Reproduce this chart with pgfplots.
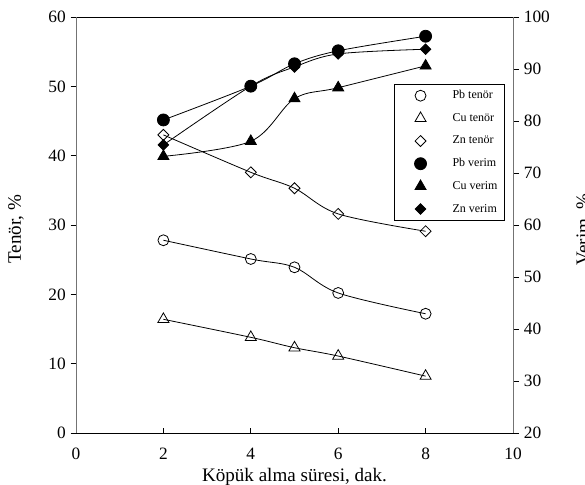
\documentclass[border=0pt]{standalone}
\usepackage{fontspec}
\setmainfont{Liberation Serif}
\usepackage{pgfplots}
\usepackage{pgfplotstable}
\pgfplotsset{compat=1.18}

% Flotation results versus froth collection time
% columns: t (min), Pb, Cu, Zn
\pgfplotstableread{
t   Pb    Cu    Zn
2   27.8  16.4  43.0
4   25.1  13.8  37.6
5   23.9  12.3  35.3
6   20.2  11.1  31.6
8   17.2   8.2  29.1
}\tenor
\pgfplotstableread{
t   Pb    Cu    Zn
2   80.2  73.2  75.4
4   86.7  76.1  86.7
5   91.0  84.3  90.4
6   93.5  86.4  92.9
8   96.3  90.6  93.8
}\verim

\definecolor{axgray}{gray}{0.45}

\begin{document}
\begin{tikzpicture}
\pgfplotsset{
  every axis/.append style={
    scale only axis,
    width=327.75pt, height=312pt,
    xmin=0, xmax=10,
    font=\fontsize{14.3}{16}\selectfont,
    tick label style={font=\fontsize{13}{15}\selectfont},
    /pgf/number format/assume math mode=true,
    line width=0.6pt,
    tick style={line width=0.6pt, black},
  },
  curve/.style={black, line width=0.6pt, smooth, tension=0.55},
}
% left axis: grade (tenör)
\begin{axis}[
  axis y line*=left,
  y axis line style={draw=axgray},
  ymin=0, ymax=60, ytick={0,10,...,60},
  xtick={0,2,...,10},
  xtick pos=bottom, ytick pos=left,
  xtick align=inside, ytick align=outside,
  major tick length=4pt,
  xticklabel style={yshift=-7.5pt},
  xlabel={Köpük alma süresi, dak.},
  xlabel style={at={(axis description cs:0.5,-0.106)}, anchor=center},
  ylabel={Tenör, \%},
  ylabel style={at={(axis description cs:-0.156,0.49)}, anchor=north, inner sep=0pt},
]
\addplot[curve, mark=o, mark size=4.1pt, mark options={fill=white, solid}]
  table[x=t, y=Pb] {\tenor};
\addplot[curve, mark=triangle, mark size=4.8pt, mark options={fill=white, solid}]
  table[x=t, y=Cu] {\tenor};
\addplot[curve, mark=square, mark size=2.9pt, mark options={fill=white, solid, rotate=45}]
  table[x=t, y=Zn] {\tenor};
\end{axis}
% right axis: recovery (verim)
\begin{axis}[
  axis x line=none,
  axis y line*=right,
  y axis line style={draw=axgray},
  ymin=20, ymax=100, ytick={20,30,...,100},
  ytick align=outside,
  major tick length=4.5pt,
  ylabel={Verim, \%},
  ylabel style={at={(axis description cs:1.144,0.49)}, anchor=north, inner sep=0pt},
  legend style={
    at={(rel axis cs:0.728,0.839)}, anchor=north west,
    draw=black, line width=0.6pt, fill=white,
    inner xsep=2pt, inner ysep=0pt,
    font=\fontsize{9}{11}\selectfont,
    nodes={minimum height=17pt, inner ysep=0pt, inner xsep=3pt},
  },
  legend cell align=left,
  legend image code/.code={
    \path[draw=none] (0pt,0pt) -- (38.5pt,0pt);
    \draw[#1, only marks] plot coordinates {(17.5pt,0pt)};
  },
]
\addplot[curve, mark=*, mark size=4.5pt, mark options={fill=black, solid}, forget plot]
  table[x=t, y=Pb] {\verim};
\addplot[curve, mark=triangle*, mark size=4.8pt, mark options={fill=black, solid}, forget plot]
  table[x=t, y=Cu] {\verim};
\addplot[curve, mark=square*, mark size=2.8pt, mark options={fill=black, solid, rotate=45}, forget plot]
  table[x=t, y=Zn] {\verim};
\addlegendimage{black, mark=o, mark size=4.1pt, mark options={fill=white}}
\addlegendentry{Pb tenör}
\addlegendimage{black, mark=triangle, mark size=4.8pt, mark options={fill=white}}
\addlegendentry{Cu tenör}
\addlegendimage{black, mark=square, mark size=2.9pt, mark options={fill=white, rotate=45}}
\addlegendentry{Zn tenör}
\addlegendimage{black, mark=*, mark size=4.5pt, mark options={fill=black}}
\addlegendentry{Pb verim}
\addlegendimage{black, mark=triangle*, mark size=4.8pt, mark options={fill=black}}
\addlegendentry{Cu verim}
\addlegendimage{black, mark=square*, mark size=2.8pt, mark options={fill=black, rotate=45}}
\addlegendentry{Zn verim}
\end{axis}
\pgfresetboundingbox
\path (-57pt,-39pt) rectangle (381.75pt,324.75pt);
\end{tikzpicture}
\end{document}
